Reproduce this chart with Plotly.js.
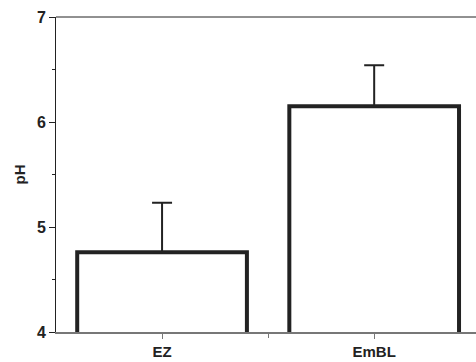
<!DOCTYPE html>
<html><head><meta charset="utf-8">
<script src="https://cdn.plot.ly/plotly-3.0.1.min.js"></script>
<style>html,body{margin:0;padding:0;background:#fff}#c{width:476px;height:362px}</style>
</head><body><div id="c"></div>
<script>
const categories = ["EZ", "EmBL"];
const phMean = [4.76, 6.15];
const phErrUp = [0.47, 0.39];
const yTicks = [4, 5, 6, 7];

const xIdx = categories.map((c, i) => i);
const fam = "Liberation Sans, Arial, sans-serif";
const bold = s => "<b>" + s + "</b>";

const trace = {
  type: "bar",
  x: xIdx,
  y: phMean,
  width: 0.8,
  marker: {color: "#fff", line: {color: "#222", width: 4}},
  error_y: {type: "data", symmetric: false, array: phErrUp, arrayminus: categories.map(() => 0),
            color: "#222", thickness: 2, width: 10}
};

const layout = {
  width: 476, height: 362,
  margin: {l: 56, r: 0, t: 17, b: 30},
  paper_bgcolor: "#fff", plot_bgcolor: "#fff",
  showlegend: false,
  font: {family: fam, size: 14, color: "#222"},
  xaxis: {
    range: [-0.5, 1.48], tickmode: "array", tickvals: xIdx, ticktext: categories.map(bold),
    ticks: "outside", ticklen: 5, tickcolor: "#777", tickwidth: 1,
    showline: true, linecolor: "#777", linewidth: 2, showgrid: false, zeroline: false,
    tickfont: {family: fam, size: 15, color: "#222"},
    minor: {tickmode: "array", tickvals: [0.5], ticks: "outside", ticklen: 4, tickcolor: "#777"}
  },
  yaxis: {
    range: [4, 7], tickmode: "array", tickvals: yTicks, ticktext: yTicks.map(v => bold(v)),
    ticks: "outside", ticklen: 6, tickcolor: "#222", tickwidth: 1,
    showline: true, linecolor: "#222", linewidth: 1, showgrid: false, zeroline: false,
    tickfont: {family: fam, size: 16, color: "#222"},
    minor: {dtick: 0.5, ticks: "outside", ticklen: 3, tickcolor: "#222"},
    title: {text: bold("pH"), font: {family: fam, size: 15, color: "#222"}, standoff: 7}
  },
  shapes: [{type: "line", xref: "paper", yref: "paper", x0: 0, x1: 1, y0: 1, y1: 1,
            line: {color: "#222", width: 1}}]
};

Plotly.newPlot("c", [trace], layout, {displayModeBar: false, staticPlot: true});
</script>
</body></html>
